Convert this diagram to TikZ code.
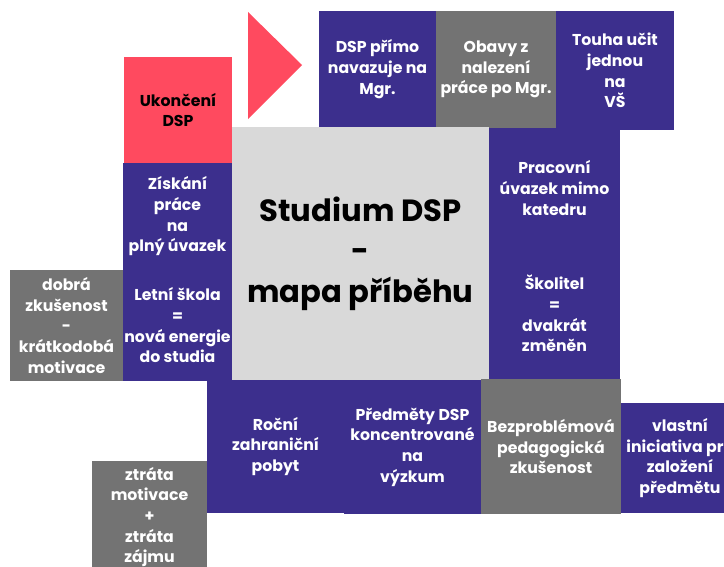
\documentclass[tikz,border=0pt]{standalone}
\usepackage{fontspec}
\setmainfont{Poppins}[BoldFont={Poppins Bold}]
\definecolor{dspPurple}{HTML}{3C2F8D}
\definecolor{dspGray}{HTML}{737373}
\definecolor{dspRed}{HTML}{FF4A5F}
\definecolor{dspLight}{HTML}{D9D9D9}

\begin{document}
\begin{tikzpicture}[x=0.75pt, y=-0.75pt,
    tile/.style={rectangle, inner sep=0pt, align=center, text=white, font=\bfseries\fontsize{11.8}{15.5}\selectfont},
    purplebox/.style={tile, fill=dspPurple},
    graybox/.style={tile, fill=dspGray},
    redbox/.style={tile, fill=dspRed, text=black},
    titlebox/.style={tile, fill=dspLight, text=black, font=\bfseries\fontsize{23}{30.5}\selectfont}]
        \useasboundingbox (0,0) rectangle (724,567);
        \clip (0,0) rectangle (724,567);
        % upper row
        \node[redbox, minimum width=81pt, minimum height=79.5pt]       (ukonceni) at (178,110)   {Ukončení\\DSP};
        \fill[dspRed] (248,12) -- (302,65) -- (248,119) -- cycle;
        \node[purplebox, minimum width=87.75pt, minimum height=87pt]   (primo)    at (377.5,69)  {DSP přímo\\navazuje na\\Mgr.};
        \node[graybox, minimum width=90pt, minimum height=87.75pt]     (obavy)    at (496,69.5)  {Obavy z\\nalezení\\práce po Mgr.};
        \node[purplebox, minimum width=88.5pt, minimum height=89.25pt] (touha)    at (615,70.5)  {Touha učit\\jednou\\na\\VŠ};
        % centre
        \node[titlebox, minimum width=192.75pt, minimum height=189.75pt] (studium) at (360.5,253.5) {Studium DSP\\-\\mapa příběhu};
        % left column
        \node[purplebox, minimum width=81.75pt, minimum height=80.25pt] (ziskani)  at (177.5,216.5) {Získání\\práce\\na\\plný úvazek};
        \node[purplebox, minimum width=81.75pt, minimum height=83.25pt] (letni)    at (177.5,325.5) {Letní škola\\=\\nová energie\\do studia};
        \node[graybox, minimum width=84.75pt, minimum height=83.25pt]   (dobra)    at (66.5,325.5)  {dobrá\\zkušenost\\-\\krátkodobá\\motivace};
        % right column
        \node[purplebox, minimum width=98.25pt, minimum height=90pt]    (pracovni) at (554.5,188)   {Pracovní\\úvazek mimo\\katedru};
        \node[purplebox, minimum width=98.25pt, minimum height=98.25pt] (skolitel) at (554.5,313.5) {Školitel\\=\\dvakrát\\změněn};
        % lower row
        \node[purplebox, minimum width=102.75pt, minimum height=99.75pt] (rocni)    at (275.5,446.5) {Roční\\zahraniční\\pobyt};
        \node[purplebox, minimum width=102.75pt, minimum height=100.5pt] (predmety) at (412.5,447)   {Předměty DSP\\koncentrované\\na\\výzkum};
        \node[graybox, minimum width=105pt, minimum height=101.25pt]     (bezprobl) at (551,446.5)   {Bezproblémová\\pedagogická\\zkušenost};
        \node[purplebox, minimum width=88.5pt, minimum height=82.5pt]    (vlastni)  at (680,458)     {vlastní\\iniciativa pro\\založení\\předmětu};
        \node[graybox, minimum width=86.25pt, minimum height=84pt]       (ztrata)   at (149.5,517)   {ztráta\\motivace\\+\\ztráta\\zájmu};
\end{tikzpicture}
\end{document}
